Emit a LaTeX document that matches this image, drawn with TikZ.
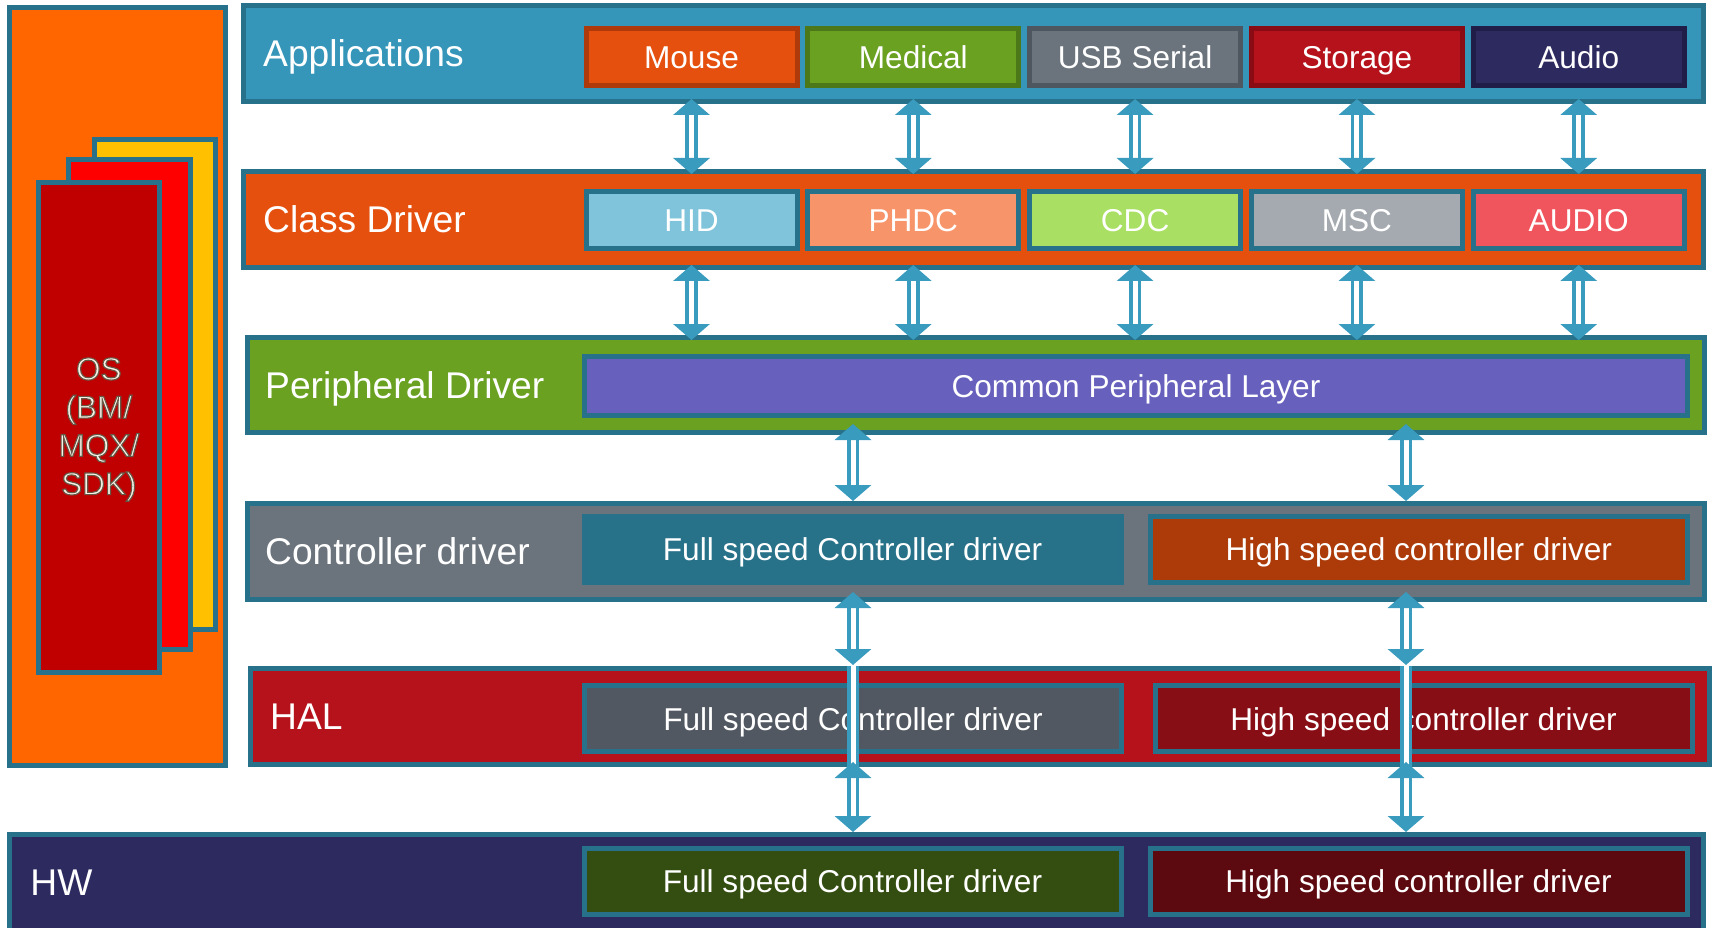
\documentclass[tikz,border=0pt]{standalone}
\usepackage{fontspec}
\setmainfont{Liberation Sans}
\usetikzlibrary{positioning,arrows.meta}

\definecolor{rim}{HTML}{27718A}
\definecolor{linkblue}{HTML}{399BBE}
\definecolor{osorange}{HTML}{FF6600}
\definecolor{osyellow}{HTML}{FFC000}
\definecolor{osred}{HTML}{FF0000}
\definecolor{osdark}{HTML}{C00000}
\definecolor{oscream}{HTML}{F6F2E6}
\definecolor{appblue}{HTML}{3596B9}
\definecolor{mouseC}{HTML}{E5500F}
\definecolor{mouseR}{HTML}{AE3A0C}
\definecolor{medC}{HTML}{6AA121}
\definecolor{medR}{HTML}{4D7819}
\definecolor{serC}{HTML}{6B747D}
\definecolor{serR}{HTML}{4E565F}
\definecolor{stoC}{HTML}{B5121B}
\definecolor{stoR}{HTML}{890C14}
\definecolor{audC}{HTML}{2D2A5F}
\definecolor{audR}{HTML}{201E48}
\definecolor{hidC}{HTML}{7FC4DA}
\definecolor{phdcC}{HTML}{F7946A}
\definecolor{cdcC}{HTML}{A9DF62}
\definecolor{mscC}{HTML}{A5AAB0}
\definecolor{audioC}{HTML}{F0555E}
\definecolor{commonC}{HTML}{6761BD}
\definecolor{fsctrlC}{HTML}{277189}
\definecolor{hsctrlC}{HTML}{AD3B0A}
\definecolor{fshalC}{HTML}{515861}
\definecolor{hshalC}{HTML}{880E15}
\definecolor{fshwC}{HTML}{344E12}
\definecolor{hshwC}{HTML}{5C0A0F}

\newcommand\titlefont{\fontsize{37.2}{44}\selectfont}
\newcommand\unitfont{\fontsize{31.6}{38}\selectfont}
\newcommand\osfont{\fontsize{31.5}{38.3}\selectfont}
\newcommand\ostext[1]{\special{pdf:literal direct 2 Tr 1.1 w 0.40 0.34 0.28 RG}#1\special{pdf:literal direct 0 Tr}}

\tikzset{
  band/.style={draw=rim,line width=5pt,anchor=north west,inner sep=0pt},
  bandlabel/.style={text=white,font=\titlefont,inner sep=0pt,text height=26.6pt,text depth=0pt},
  unitbox/.style={draw=rim,line width=5pt,inner sep=0pt,text=white,font=\unitfont,text height=22.6pt,text depth=0pt},
  appunit/.style={unitbox,minimum width=211pt,minimum height=57.6pt},
  clsunit/.style={unitbox,minimum width=211pt,minimum height=56.7pt},
  drvunit/.style={unitbox,minimum width=537pt,minimum height=66pt},
  shaft/.style={draw=linkblue,line width=3.8pt,double=white,double distance=5pt},
  link/.style={shaft,arrows={Triangle[width=36pt,length=16pt]-Triangle[width=36pt,length=16pt]},shorten <=-5pt,shorten >=-5pt}
}

\begin{document}
\begin{tikzpicture}[x=1pt,y=-1pt]
\useasboundingbox (0,0) rectangle (1717,928);
\clip (0,0) rectangle (1717,928);
% OS column
\node[band,fill=osorange,minimum width=216pt,minimum height=758pt] (os) at (7.3,5.3) {};
\node[band,fill=osyellow,minimum width=121.3pt,minimum height=490.3pt] (osback) at (91.7,136.7) {};
\node[band,fill=osred,minimum width=122pt,minimum height=490pt] (osmid) at (65.7,157) {};
\node[band,fill=osdark,minimum width=121.3pt,minimum height=490pt] (osfront) at (35.7,180) {};
\node[text=oscream,font=\osfont,align=center,inner sep=0pt] (ostag) at ([yshift=-2pt]osfront.center) {\ostext{OS\\(BM/\\MQX/\\SDK)}};

% layers
\node[band,fill=appblue,minimum width=1460pt,minimum height=95.7pt] (app) at (241,3.3) {};
\node[bandlabel,right=22pt of app.west] (apptag) {Applications};
\node[band,fill=mouseC,minimum width=1460pt,minimum height=96pt] (class) at (241,169) {};
\node[bandlabel,right=22pt of class.west] (classtag) {Class Driver};
\node[band,fill=medC,minimum width=1457pt,minimum height=95pt] (periph) at (245,335) {};
\node[bandlabel,right=20pt of periph.west] (periphtag) {Peripheral Driver};
\node[band,fill=serC,minimum width=1457pt,minimum height=96pt] (ctrl) at (245,501) {};
\node[bandlabel,right=20pt of ctrl.west] (ctrltag) {Controller driver};
\node[band,fill=stoC,minimum width=1459pt,minimum height=96pt] (hal) at (248,666) {};
\node[bandlabel,right=22pt of hal.west] (haltag) {HAL};
\node[band,fill=audC,minimum width=1693.7pt,minimum height=96pt] (hw) at (7.3,832) {};
\node[bandlabel,right=23pt of hw.west] (hwtag) {HW};

% boxes
\foreach \n/\t/\f/\r [count=\i from 0] in {mouse/Mouse/mouseC/mouseR, medical/Medical/medC/medR, serial/USB Serial/serC/serR, storage/Storage/stoC/stoR, aud/Audio/audC/audR}
  \node[appunit,fill=\f,draw=\r] (\n) at (691.5+221.8*\i,57) {\t};
\foreach \n/\t/\f [count=\i from 0] in {hid/HID/hidC, phdc/PHDC/phdcC, cdc/CDC/cdcC, msc/MSC/mscC, audcls/AUDIO/audioC}
  \node[clsunit,fill=\f] (\n) at (691.5+221.8*\i,219.8) {\t};
\node[unitbox,fill=commonC,minimum width=1103.6pt,minimum height=59pt] (common) at (1136,386) {Common Peripheral Layer};
\node[drvunit,fill=fsctrlC] (ctrlfs) at (852.6,549.5) {Full speed Controller driver};
\node[drvunit,fill=hsctrlC] (ctrlhs) at (1418.8,549.5) {High speed controller driver};
\node[drvunit,fill=fshalC] (halfs) at (853,718.7) {Full speed Controller driver};
\node[drvunit,fill=hshalC] (halhs) at (1423.5,718.7) {High speed controller driver};
\node[drvunit,fill=fshwC] (hwfs) at (852.5,881) {Full speed Controller driver};
\node[drvunit,fill=hshwC] (hwhs) at (1418.5,881) {High speed controller driver};

% arrows
\foreach \n in {mouse,medical,serial,storage,aud}
  \draw[link] (\n |- app.south) -- (\n |- class.north);
\foreach \n in {hid,phdc,cdc,msc,audcls}
  \draw[link] (\n |- class.south) -- (\n |- periph.north);
\coordinate (lane1) at (853,0);
\coordinate (lane2) at (1406,0);
\foreach \l in {lane1,lane2} {
  \draw[link,shorten <=6pt,shorten >=0pt] (\l |- common.south) -- (\l |- ctrl.north);
  \draw[link,shorten <=-10pt,shorten >=1pt] (\l |- ctrl.south) -- (\l |- hal.north);
  \draw[shaft] (\l |- hal.north) -- (\l |- hal.south);
  \draw[link,shorten >=0pt] (\l |- hal.south) -- (\l |- hw.north);
}
\end{tikzpicture}
\end{document}
